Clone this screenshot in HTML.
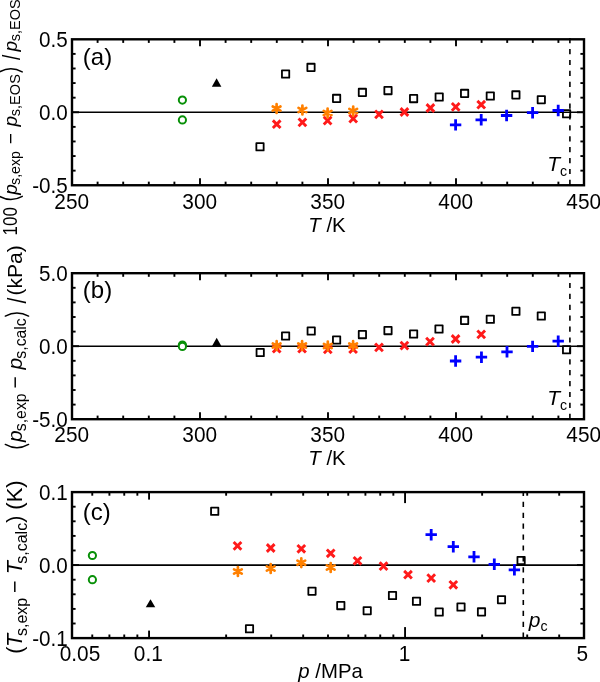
<!DOCTYPE html>
<html><head><meta charset="utf-8"><style>
html,body{margin:0;padding:0;background:#fff;width:600px;height:682px;overflow:hidden}
svg{will-change:transform}
text{font-family:"Liberation Sans", sans-serif;fill:#000}
</style></head><body>
<svg width="600" height="682" viewBox="0 0 600 682" style="display:block"><rect width="600" height="682" fill="#fff"/><line x1="97.60" y1="185.25" x2="97.60" y2="181.65" stroke="#000" stroke-width="1.9" /><line x1="97.60" y1="39.30" x2="97.60" y2="42.90" stroke="#000" stroke-width="1.9" /><line x1="123.20" y1="185.25" x2="123.20" y2="181.65" stroke="#000" stroke-width="1.9" /><line x1="123.20" y1="39.30" x2="123.20" y2="42.90" stroke="#000" stroke-width="1.9" /><line x1="148.80" y1="185.25" x2="148.80" y2="181.65" stroke="#000" stroke-width="1.9" /><line x1="148.80" y1="39.30" x2="148.80" y2="42.90" stroke="#000" stroke-width="1.9" /><line x1="174.40" y1="185.25" x2="174.40" y2="181.65" stroke="#000" stroke-width="1.9" /><line x1="174.40" y1="39.30" x2="174.40" y2="42.90" stroke="#000" stroke-width="1.9" /><line x1="200.00" y1="185.25" x2="200.00" y2="178.25" stroke="#000" stroke-width="1.9" /><line x1="200.00" y1="39.30" x2="200.00" y2="46.30" stroke="#000" stroke-width="1.9" /><line x1="225.60" y1="185.25" x2="225.60" y2="181.65" stroke="#000" stroke-width="1.9" /><line x1="225.60" y1="39.30" x2="225.60" y2="42.90" stroke="#000" stroke-width="1.9" /><line x1="251.20" y1="185.25" x2="251.20" y2="181.65" stroke="#000" stroke-width="1.9" /><line x1="251.20" y1="39.30" x2="251.20" y2="42.90" stroke="#000" stroke-width="1.9" /><line x1="276.80" y1="185.25" x2="276.80" y2="181.65" stroke="#000" stroke-width="1.9" /><line x1="276.80" y1="39.30" x2="276.80" y2="42.90" stroke="#000" stroke-width="1.9" /><line x1="302.40" y1="185.25" x2="302.40" y2="181.65" stroke="#000" stroke-width="1.9" /><line x1="302.40" y1="39.30" x2="302.40" y2="42.90" stroke="#000" stroke-width="1.9" /><line x1="328.00" y1="185.25" x2="328.00" y2="178.25" stroke="#000" stroke-width="1.9" /><line x1="328.00" y1="39.30" x2="328.00" y2="46.30" stroke="#000" stroke-width="1.9" /><line x1="353.60" y1="185.25" x2="353.60" y2="181.65" stroke="#000" stroke-width="1.9" /><line x1="353.60" y1="39.30" x2="353.60" y2="42.90" stroke="#000" stroke-width="1.9" /><line x1="379.20" y1="185.25" x2="379.20" y2="181.65" stroke="#000" stroke-width="1.9" /><line x1="379.20" y1="39.30" x2="379.20" y2="42.90" stroke="#000" stroke-width="1.9" /><line x1="404.80" y1="185.25" x2="404.80" y2="181.65" stroke="#000" stroke-width="1.9" /><line x1="404.80" y1="39.30" x2="404.80" y2="42.90" stroke="#000" stroke-width="1.9" /><line x1="430.40" y1="185.25" x2="430.40" y2="181.65" stroke="#000" stroke-width="1.9" /><line x1="430.40" y1="39.30" x2="430.40" y2="42.90" stroke="#000" stroke-width="1.9" /><line x1="456.00" y1="185.25" x2="456.00" y2="178.25" stroke="#000" stroke-width="1.9" /><line x1="456.00" y1="39.30" x2="456.00" y2="46.30" stroke="#000" stroke-width="1.9" /><line x1="481.60" y1="185.25" x2="481.60" y2="181.65" stroke="#000" stroke-width="1.9" /><line x1="481.60" y1="39.30" x2="481.60" y2="42.90" stroke="#000" stroke-width="1.9" /><line x1="507.20" y1="185.25" x2="507.20" y2="181.65" stroke="#000" stroke-width="1.9" /><line x1="507.20" y1="39.30" x2="507.20" y2="42.90" stroke="#000" stroke-width="1.9" /><line x1="532.80" y1="185.25" x2="532.80" y2="181.65" stroke="#000" stroke-width="1.9" /><line x1="532.80" y1="39.30" x2="532.80" y2="42.90" stroke="#000" stroke-width="1.9" /><line x1="558.40" y1="185.25" x2="558.40" y2="181.65" stroke="#000" stroke-width="1.9" /><line x1="558.40" y1="39.30" x2="558.40" y2="42.90" stroke="#000" stroke-width="1.9" /><line x1="72.00" y1="53.89" x2="75.60" y2="53.89" stroke="#000" stroke-width="1.9" /><line x1="584.00" y1="53.89" x2="580.40" y2="53.89" stroke="#000" stroke-width="1.9" /><line x1="72.00" y1="68.49" x2="75.60" y2="68.49" stroke="#000" stroke-width="1.9" /><line x1="584.00" y1="68.49" x2="580.40" y2="68.49" stroke="#000" stroke-width="1.9" /><line x1="72.00" y1="83.08" x2="75.60" y2="83.08" stroke="#000" stroke-width="1.9" /><line x1="584.00" y1="83.08" x2="580.40" y2="83.08" stroke="#000" stroke-width="1.9" /><line x1="72.00" y1="97.68" x2="75.60" y2="97.68" stroke="#000" stroke-width="1.9" /><line x1="584.00" y1="97.68" x2="580.40" y2="97.68" stroke="#000" stroke-width="1.9" /><line x1="72.00" y1="112.27" x2="79.00" y2="112.27" stroke="#000" stroke-width="1.9" /><line x1="584.00" y1="112.27" x2="577.00" y2="112.27" stroke="#000" stroke-width="1.9" /><line x1="72.00" y1="126.87" x2="75.60" y2="126.87" stroke="#000" stroke-width="1.9" /><line x1="584.00" y1="126.87" x2="580.40" y2="126.87" stroke="#000" stroke-width="1.9" /><line x1="72.00" y1="141.46" x2="75.60" y2="141.46" stroke="#000" stroke-width="1.9" /><line x1="584.00" y1="141.46" x2="580.40" y2="141.46" stroke="#000" stroke-width="1.9" /><line x1="72.00" y1="156.06" x2="75.60" y2="156.06" stroke="#000" stroke-width="1.9" /><line x1="584.00" y1="156.06" x2="580.40" y2="156.06" stroke="#000" stroke-width="1.9" /><line x1="72.00" y1="170.65" x2="75.60" y2="170.65" stroke="#000" stroke-width="1.9" /><line x1="584.00" y1="170.65" x2="580.40" y2="170.65" stroke="#000" stroke-width="1.9" /><line x1="97.60" y1="419.20" x2="97.60" y2="415.60" stroke="#000" stroke-width="1.9" /><line x1="97.60" y1="273.20" x2="97.60" y2="276.80" stroke="#000" stroke-width="1.9" /><line x1="123.20" y1="419.20" x2="123.20" y2="415.60" stroke="#000" stroke-width="1.9" /><line x1="123.20" y1="273.20" x2="123.20" y2="276.80" stroke="#000" stroke-width="1.9" /><line x1="148.80" y1="419.20" x2="148.80" y2="415.60" stroke="#000" stroke-width="1.9" /><line x1="148.80" y1="273.20" x2="148.80" y2="276.80" stroke="#000" stroke-width="1.9" /><line x1="174.40" y1="419.20" x2="174.40" y2="415.60" stroke="#000" stroke-width="1.9" /><line x1="174.40" y1="273.20" x2="174.40" y2="276.80" stroke="#000" stroke-width="1.9" /><line x1="200.00" y1="419.20" x2="200.00" y2="412.20" stroke="#000" stroke-width="1.9" /><line x1="200.00" y1="273.20" x2="200.00" y2="280.20" stroke="#000" stroke-width="1.9" /><line x1="225.60" y1="419.20" x2="225.60" y2="415.60" stroke="#000" stroke-width="1.9" /><line x1="225.60" y1="273.20" x2="225.60" y2="276.80" stroke="#000" stroke-width="1.9" /><line x1="251.20" y1="419.20" x2="251.20" y2="415.60" stroke="#000" stroke-width="1.9" /><line x1="251.20" y1="273.20" x2="251.20" y2="276.80" stroke="#000" stroke-width="1.9" /><line x1="276.80" y1="419.20" x2="276.80" y2="415.60" stroke="#000" stroke-width="1.9" /><line x1="276.80" y1="273.20" x2="276.80" y2="276.80" stroke="#000" stroke-width="1.9" /><line x1="302.40" y1="419.20" x2="302.40" y2="415.60" stroke="#000" stroke-width="1.9" /><line x1="302.40" y1="273.20" x2="302.40" y2="276.80" stroke="#000" stroke-width="1.9" /><line x1="328.00" y1="419.20" x2="328.00" y2="412.20" stroke="#000" stroke-width="1.9" /><line x1="328.00" y1="273.20" x2="328.00" y2="280.20" stroke="#000" stroke-width="1.9" /><line x1="353.60" y1="419.20" x2="353.60" y2="415.60" stroke="#000" stroke-width="1.9" /><line x1="353.60" y1="273.20" x2="353.60" y2="276.80" stroke="#000" stroke-width="1.9" /><line x1="379.20" y1="419.20" x2="379.20" y2="415.60" stroke="#000" stroke-width="1.9" /><line x1="379.20" y1="273.20" x2="379.20" y2="276.80" stroke="#000" stroke-width="1.9" /><line x1="404.80" y1="419.20" x2="404.80" y2="415.60" stroke="#000" stroke-width="1.9" /><line x1="404.80" y1="273.20" x2="404.80" y2="276.80" stroke="#000" stroke-width="1.9" /><line x1="430.40" y1="419.20" x2="430.40" y2="415.60" stroke="#000" stroke-width="1.9" /><line x1="430.40" y1="273.20" x2="430.40" y2="276.80" stroke="#000" stroke-width="1.9" /><line x1="456.00" y1="419.20" x2="456.00" y2="412.20" stroke="#000" stroke-width="1.9" /><line x1="456.00" y1="273.20" x2="456.00" y2="280.20" stroke="#000" stroke-width="1.9" /><line x1="481.60" y1="419.20" x2="481.60" y2="415.60" stroke="#000" stroke-width="1.9" /><line x1="481.60" y1="273.20" x2="481.60" y2="276.80" stroke="#000" stroke-width="1.9" /><line x1="507.20" y1="419.20" x2="507.20" y2="415.60" stroke="#000" stroke-width="1.9" /><line x1="507.20" y1="273.20" x2="507.20" y2="276.80" stroke="#000" stroke-width="1.9" /><line x1="532.80" y1="419.20" x2="532.80" y2="415.60" stroke="#000" stroke-width="1.9" /><line x1="532.80" y1="273.20" x2="532.80" y2="276.80" stroke="#000" stroke-width="1.9" /><line x1="558.40" y1="419.20" x2="558.40" y2="415.60" stroke="#000" stroke-width="1.9" /><line x1="558.40" y1="273.20" x2="558.40" y2="276.80" stroke="#000" stroke-width="1.9" /><line x1="72.00" y1="287.80" x2="75.60" y2="287.80" stroke="#000" stroke-width="1.9" /><line x1="584.00" y1="287.80" x2="580.40" y2="287.80" stroke="#000" stroke-width="1.9" /><line x1="72.00" y1="302.40" x2="75.60" y2="302.40" stroke="#000" stroke-width="1.9" /><line x1="584.00" y1="302.40" x2="580.40" y2="302.40" stroke="#000" stroke-width="1.9" /><line x1="72.00" y1="317.00" x2="75.60" y2="317.00" stroke="#000" stroke-width="1.9" /><line x1="584.00" y1="317.00" x2="580.40" y2="317.00" stroke="#000" stroke-width="1.9" /><line x1="72.00" y1="331.60" x2="75.60" y2="331.60" stroke="#000" stroke-width="1.9" /><line x1="584.00" y1="331.60" x2="580.40" y2="331.60" stroke="#000" stroke-width="1.9" /><line x1="72.00" y1="346.20" x2="79.00" y2="346.20" stroke="#000" stroke-width="1.9" /><line x1="584.00" y1="346.20" x2="577.00" y2="346.20" stroke="#000" stroke-width="1.9" /><line x1="72.00" y1="360.80" x2="75.60" y2="360.80" stroke="#000" stroke-width="1.9" /><line x1="584.00" y1="360.80" x2="580.40" y2="360.80" stroke="#000" stroke-width="1.9" /><line x1="72.00" y1="375.40" x2="75.60" y2="375.40" stroke="#000" stroke-width="1.9" /><line x1="584.00" y1="375.40" x2="580.40" y2="375.40" stroke="#000" stroke-width="1.9" /><line x1="72.00" y1="390.00" x2="75.60" y2="390.00" stroke="#000" stroke-width="1.9" /><line x1="584.00" y1="390.00" x2="580.40" y2="390.00" stroke="#000" stroke-width="1.9" /><line x1="72.00" y1="404.60" x2="75.60" y2="404.60" stroke="#000" stroke-width="1.9" /><line x1="584.00" y1="404.60" x2="580.40" y2="404.60" stroke="#000" stroke-width="1.9" /><line x1="92.27" y1="638.10" x2="92.27" y2="634.50" stroke="#000" stroke-width="1.9" /><line x1="92.27" y1="492.10" x2="92.27" y2="495.70" stroke="#000" stroke-width="1.9" /><line x1="109.41" y1="638.10" x2="109.41" y2="634.50" stroke="#000" stroke-width="1.9" /><line x1="109.41" y1="492.10" x2="109.41" y2="495.70" stroke="#000" stroke-width="1.9" /><line x1="124.25" y1="638.10" x2="124.25" y2="634.50" stroke="#000" stroke-width="1.9" /><line x1="124.25" y1="492.10" x2="124.25" y2="495.70" stroke="#000" stroke-width="1.9" /><line x1="137.35" y1="638.10" x2="137.35" y2="634.50" stroke="#000" stroke-width="1.9" /><line x1="137.35" y1="492.10" x2="137.35" y2="495.70" stroke="#000" stroke-width="1.9" /><line x1="149.06" y1="638.10" x2="149.06" y2="630.60" stroke="#000" stroke-width="1.9" /><line x1="149.06" y1="492.10" x2="149.06" y2="499.60" stroke="#000" stroke-width="1.9" /><line x1="226.13" y1="638.10" x2="226.13" y2="634.50" stroke="#000" stroke-width="1.9" /><line x1="226.13" y1="492.10" x2="226.13" y2="495.70" stroke="#000" stroke-width="1.9" /><line x1="271.21" y1="638.10" x2="271.21" y2="634.50" stroke="#000" stroke-width="1.9" /><line x1="271.21" y1="492.10" x2="271.21" y2="495.70" stroke="#000" stroke-width="1.9" /><line x1="303.19" y1="638.10" x2="303.19" y2="634.50" stroke="#000" stroke-width="1.9" /><line x1="303.19" y1="492.10" x2="303.19" y2="495.70" stroke="#000" stroke-width="1.9" /><line x1="328.00" y1="638.10" x2="328.00" y2="634.50" stroke="#000" stroke-width="1.9" /><line x1="328.00" y1="492.10" x2="328.00" y2="495.70" stroke="#000" stroke-width="1.9" /><line x1="348.27" y1="638.10" x2="348.27" y2="634.50" stroke="#000" stroke-width="1.9" /><line x1="348.27" y1="492.10" x2="348.27" y2="495.70" stroke="#000" stroke-width="1.9" /><line x1="365.41" y1="638.10" x2="365.41" y2="634.50" stroke="#000" stroke-width="1.9" /><line x1="365.41" y1="492.10" x2="365.41" y2="495.70" stroke="#000" stroke-width="1.9" /><line x1="380.25" y1="638.10" x2="380.25" y2="634.50" stroke="#000" stroke-width="1.9" /><line x1="380.25" y1="492.10" x2="380.25" y2="495.70" stroke="#000" stroke-width="1.9" /><line x1="393.35" y1="638.10" x2="393.35" y2="634.50" stroke="#000" stroke-width="1.9" /><line x1="393.35" y1="492.10" x2="393.35" y2="495.70" stroke="#000" stroke-width="1.9" /><line x1="405.06" y1="638.10" x2="405.06" y2="627.10" stroke="#000" stroke-width="1.9" /><line x1="405.06" y1="492.10" x2="405.06" y2="503.10" stroke="#000" stroke-width="1.9" /><line x1="482.13" y1="638.10" x2="482.13" y2="634.50" stroke="#000" stroke-width="1.9" /><line x1="482.13" y1="492.10" x2="482.13" y2="495.70" stroke="#000" stroke-width="1.9" /><line x1="527.21" y1="638.10" x2="527.21" y2="634.50" stroke="#000" stroke-width="1.9" /><line x1="527.21" y1="492.10" x2="527.21" y2="495.70" stroke="#000" stroke-width="1.9" /><line x1="559.19" y1="638.10" x2="559.19" y2="634.50" stroke="#000" stroke-width="1.9" /><line x1="559.19" y1="492.10" x2="559.19" y2="495.70" stroke="#000" stroke-width="1.9" /><line x1="72.00" y1="506.70" x2="75.60" y2="506.70" stroke="#000" stroke-width="1.9" /><line x1="584.00" y1="506.70" x2="580.40" y2="506.70" stroke="#000" stroke-width="1.9" /><line x1="72.00" y1="521.30" x2="75.60" y2="521.30" stroke="#000" stroke-width="1.9" /><line x1="584.00" y1="521.30" x2="580.40" y2="521.30" stroke="#000" stroke-width="1.9" /><line x1="72.00" y1="535.90" x2="75.60" y2="535.90" stroke="#000" stroke-width="1.9" /><line x1="584.00" y1="535.90" x2="580.40" y2="535.90" stroke="#000" stroke-width="1.9" /><line x1="72.00" y1="550.50" x2="75.60" y2="550.50" stroke="#000" stroke-width="1.9" /><line x1="584.00" y1="550.50" x2="580.40" y2="550.50" stroke="#000" stroke-width="1.9" /><line x1="72.00" y1="565.10" x2="79.00" y2="565.10" stroke="#000" stroke-width="1.9" /><line x1="584.00" y1="565.10" x2="577.00" y2="565.10" stroke="#000" stroke-width="1.9" /><line x1="72.00" y1="579.70" x2="75.60" y2="579.70" stroke="#000" stroke-width="1.9" /><line x1="584.00" y1="579.70" x2="580.40" y2="579.70" stroke="#000" stroke-width="1.9" /><line x1="72.00" y1="594.30" x2="75.60" y2="594.30" stroke="#000" stroke-width="1.9" /><line x1="584.00" y1="594.30" x2="580.40" y2="594.30" stroke="#000" stroke-width="1.9" /><line x1="72.00" y1="608.90" x2="75.60" y2="608.90" stroke="#000" stroke-width="1.9" /><line x1="584.00" y1="608.90" x2="580.40" y2="608.90" stroke="#000" stroke-width="1.9" /><line x1="72.00" y1="623.50" x2="75.60" y2="623.50" stroke="#000" stroke-width="1.9" /><line x1="584.00" y1="623.50" x2="580.40" y2="623.50" stroke="#000" stroke-width="1.9" /><line x1="72.00" y1="112.28" x2="584.00" y2="112.28" stroke="#000" stroke-width="1.65" /><line x1="72.00" y1="346.20" x2="584.00" y2="346.20" stroke="#000" stroke-width="1.65" /><line x1="72.00" y1="565.10" x2="584.00" y2="565.10" stroke="#000" stroke-width="1.65" /><line x1="569.9" y1="38.099999999999994" x2="569.9" y2="185.25" stroke="#000" stroke-width="1.6" stroke-dasharray="5.2 5.7"/><line x1="569.9" y1="272.0" x2="569.9" y2="419.2" stroke="#000" stroke-width="1.6" stroke-dasharray="5.2 5.7"/><line x1="523.3" y1="490.90000000000003" x2="523.3" y2="638.1" stroke="#000" stroke-width="1.6" stroke-dasharray="5.2 5.7"/><circle cx="182.40" cy="100.10" r="3.6" fill="#fff" stroke="#089008" stroke-width="2.0"/><circle cx="182.40" cy="119.90" r="3.6" fill="#fff" stroke="#089008" stroke-width="2.0"/><path d="M216.60,78.20 L221.35,86.70 L211.85,86.70 Z" fill="#000"/><rect x="256.35" y="143.15" width="7.30" height="7.30" fill="none" stroke="#000" stroke-width="1.8" stroke-linejoin="round"/><rect x="281.95" y="70.35" width="7.30" height="7.30" fill="none" stroke="#000" stroke-width="1.8" stroke-linejoin="round"/><rect x="307.35" y="63.75" width="7.30" height="7.30" fill="none" stroke="#000" stroke-width="1.8" stroke-linejoin="round"/><rect x="332.95" y="94.75" width="7.30" height="7.30" fill="none" stroke="#000" stroke-width="1.8" stroke-linejoin="round"/><rect x="358.75" y="88.75" width="7.30" height="7.30" fill="none" stroke="#000" stroke-width="1.8" stroke-linejoin="round"/><rect x="384.35" y="86.95" width="7.30" height="7.30" fill="none" stroke="#000" stroke-width="1.8" stroke-linejoin="round"/><rect x="409.95" y="94.95" width="7.30" height="7.30" fill="none" stroke="#000" stroke-width="1.8" stroke-linejoin="round"/><rect x="435.55" y="93.35" width="7.30" height="7.30" fill="none" stroke="#000" stroke-width="1.8" stroke-linejoin="round"/><rect x="460.95" y="89.75" width="7.30" height="7.30" fill="none" stroke="#000" stroke-width="1.8" stroke-linejoin="round"/><rect x="486.65" y="92.35" width="7.30" height="7.30" fill="none" stroke="#000" stroke-width="1.8" stroke-linejoin="round"/><rect x="512.25" y="91.25" width="7.30" height="7.30" fill="none" stroke="#000" stroke-width="1.8" stroke-linejoin="round"/><rect x="537.65" y="96.05" width="7.30" height="7.30" fill="none" stroke="#000" stroke-width="1.8" stroke-linejoin="round"/><rect x="562.95" y="110.15" width="7.30" height="7.30" fill="none" stroke="#000" stroke-width="1.8" stroke-linejoin="round"/><path d="M272.85,120.35 L280.55,128.05 M272.85,128.05 L280.55,120.35" stroke="#ff1a1a" stroke-width="2.9" stroke-linecap="butt" fill="none"/><path d="M298.55,118.55 L306.25,126.25 M298.55,126.25 L306.25,118.55" stroke="#ff1a1a" stroke-width="2.9" stroke-linecap="butt" fill="none"/><path d="M323.75,116.75 L331.45,124.45 M323.75,124.45 L331.45,116.75" stroke="#ff1a1a" stroke-width="2.9" stroke-linecap="butt" fill="none"/><path d="M349.35,114.75 L357.05,122.45 M349.35,122.45 L357.05,114.75" stroke="#ff1a1a" stroke-width="2.9" stroke-linecap="butt" fill="none"/><path d="M375.15,110.55 L382.85,118.25 M375.15,118.25 L382.85,110.55" stroke="#ff1a1a" stroke-width="2.9" stroke-linecap="butt" fill="none"/><path d="M400.55,108.15 L408.25,115.85 M400.55,115.85 L408.25,108.15" stroke="#ff1a1a" stroke-width="2.9" stroke-linecap="butt" fill="none"/><path d="M426.55,104.15 L434.25,111.85 M426.55,111.85 L434.25,104.15" stroke="#ff1a1a" stroke-width="2.9" stroke-linecap="butt" fill="none"/><path d="M451.85,103.05 L459.55,110.75 M451.85,110.75 L459.55,103.05" stroke="#ff1a1a" stroke-width="2.9" stroke-linecap="butt" fill="none"/><path d="M477.35,100.85 L485.05,108.55 M477.35,108.55 L485.05,100.85" stroke="#ff1a1a" stroke-width="2.9" stroke-linecap="butt" fill="none"/><path d="M276.60,104.20 L276.60,113.00 M272.72,106.53 L280.48,110.67 M280.48,106.53 L272.72,110.67 " stroke="#ff8000" stroke-width="2.7" stroke-linecap="round" fill="none"/><path d="M302.40,105.60 L302.40,114.40 M298.52,107.93 L306.28,112.07 M306.28,107.93 L298.52,112.07 " stroke="#ff8000" stroke-width="2.7" stroke-linecap="round" fill="none"/><path d="M327.60,108.60 L327.60,117.40 M323.72,110.93 L331.48,115.07 M331.48,110.93 L323.72,115.07 " stroke="#ff8000" stroke-width="2.7" stroke-linecap="round" fill="none"/><path d="M353.20,106.60 L353.20,115.40 M349.32,108.93 L357.08,113.07 M357.08,108.93 L349.32,113.07 " stroke="#ff8000" stroke-width="2.7" stroke-linecap="round" fill="none"/><path d="M451.30,124.90 L459.90,124.90 M455.60,120.60 L455.60,129.20" stroke="#0000ff" stroke-width="2.8" stroke-linecap="square" fill="none"/><path d="M476.90,119.80 L485.50,119.80 M481.20,115.50 L481.20,124.10" stroke="#0000ff" stroke-width="2.8" stroke-linecap="square" fill="none"/><path d="M502.30,115.50 L510.90,115.50 M506.60,111.20 L506.60,119.80" stroke="#0000ff" stroke-width="2.8" stroke-linecap="square" fill="none"/><path d="M528.30,112.70 L536.90,112.70 M532.60,108.40 L532.60,117.00" stroke="#0000ff" stroke-width="2.8" stroke-linecap="square" fill="none"/><path d="M553.90,110.50 L562.50,110.50 M558.20,106.20 L558.20,114.80" stroke="#0000ff" stroke-width="2.8" stroke-linecap="square" fill="none"/><circle cx="182.40" cy="345.00" r="3.6" fill="#fff" stroke="#089008" stroke-width="2.0"/><circle cx="182.40" cy="346.40" r="3.6" fill="#fff" stroke="#089008" stroke-width="2.0"/><path d="M216.70,337.80 L221.45,346.30 L211.95,346.30 Z" fill="#000"/><rect x="256.55" y="348.85" width="7.30" height="7.30" fill="none" stroke="#000" stroke-width="1.8" stroke-linejoin="round"/><rect x="281.95" y="332.35" width="7.30" height="7.30" fill="none" stroke="#000" stroke-width="1.8" stroke-linejoin="round"/><rect x="307.55" y="327.35" width="7.30" height="7.30" fill="none" stroke="#000" stroke-width="1.8" stroke-linejoin="round"/><rect x="332.95" y="336.35" width="7.30" height="7.30" fill="none" stroke="#000" stroke-width="1.8" stroke-linejoin="round"/><rect x="358.75" y="330.95" width="7.30" height="7.30" fill="none" stroke="#000" stroke-width="1.8" stroke-linejoin="round"/><rect x="384.35" y="326.95" width="7.30" height="7.30" fill="none" stroke="#000" stroke-width="1.8" stroke-linejoin="round"/><rect x="409.95" y="330.35" width="7.30" height="7.30" fill="none" stroke="#000" stroke-width="1.8" stroke-linejoin="round"/><rect x="435.35" y="325.35" width="7.30" height="7.30" fill="none" stroke="#000" stroke-width="1.8" stroke-linejoin="round"/><rect x="460.95" y="316.75" width="7.30" height="7.30" fill="none" stroke="#000" stroke-width="1.8" stroke-linejoin="round"/><rect x="486.65" y="315.65" width="7.30" height="7.30" fill="none" stroke="#000" stroke-width="1.8" stroke-linejoin="round"/><rect x="512.25" y="307.65" width="7.30" height="7.30" fill="none" stroke="#000" stroke-width="1.8" stroke-linejoin="round"/><rect x="537.65" y="312.35" width="7.30" height="7.30" fill="none" stroke="#000" stroke-width="1.8" stroke-linejoin="round"/><rect x="562.95" y="346.15" width="7.30" height="7.30" fill="none" stroke="#000" stroke-width="1.8" stroke-linejoin="round"/><path d="M272.85,344.85 L280.55,352.55 M272.85,352.55 L280.55,344.85" stroke="#ff1a1a" stroke-width="2.9" stroke-linecap="butt" fill="none"/><path d="M298.25,344.85 L305.95,352.55 M298.25,352.55 L305.95,344.85" stroke="#ff1a1a" stroke-width="2.9" stroke-linecap="butt" fill="none"/><path d="M323.95,345.55 L331.65,353.25 M323.95,353.25 L331.65,345.55" stroke="#ff1a1a" stroke-width="2.9" stroke-linecap="butt" fill="none"/><path d="M349.25,345.35 L356.95,353.05 M349.25,353.05 L356.95,345.35" stroke="#ff1a1a" stroke-width="2.9" stroke-linecap="butt" fill="none"/><path d="M375.15,343.55 L382.85,351.25 M375.15,351.25 L382.85,343.55" stroke="#ff1a1a" stroke-width="2.9" stroke-linecap="butt" fill="none"/><path d="M400.55,341.75 L408.25,349.45 M400.55,349.45 L408.25,341.75" stroke="#ff1a1a" stroke-width="2.9" stroke-linecap="butt" fill="none"/><path d="M426.15,337.75 L433.85,345.45 M426.15,345.45 L433.85,337.75" stroke="#ff1a1a" stroke-width="2.9" stroke-linecap="butt" fill="none"/><path d="M451.75,335.15 L459.45,342.85 M451.75,342.85 L459.45,335.15" stroke="#ff1a1a" stroke-width="2.9" stroke-linecap="butt" fill="none"/><path d="M477.35,330.55 L485.05,338.25 M477.35,338.25 L485.05,330.55" stroke="#ff1a1a" stroke-width="2.9" stroke-linecap="butt" fill="none"/><path d="M276.65,341.20 L276.65,350.00 M272.77,343.53 L280.53,347.67 M280.53,343.53 L272.77,347.67 " stroke="#ff8000" stroke-width="2.7" stroke-linecap="round" fill="none"/><path d="M302.10,341.20 L302.10,350.00 M298.22,343.53 L305.98,347.67 M305.98,343.53 L298.22,347.67 " stroke="#ff8000" stroke-width="2.7" stroke-linecap="round" fill="none"/><path d="M327.80,341.60 L327.80,350.40 M323.92,343.93 L331.68,348.07 M331.68,343.93 L323.92,348.07 " stroke="#ff8000" stroke-width="2.7" stroke-linecap="round" fill="none"/><path d="M353.10,341.20 L353.10,350.00 M349.22,343.53 L356.98,347.67 M356.98,343.53 L349.22,347.67 " stroke="#ff8000" stroke-width="2.7" stroke-linecap="round" fill="none"/><path d="M451.30,361.00 L459.90,361.00 M455.60,356.70 L455.60,365.30" stroke="#0000ff" stroke-width="2.8" stroke-linecap="square" fill="none"/><path d="M477.15,357.20 L485.75,357.20 M481.45,352.90 L481.45,361.50" stroke="#0000ff" stroke-width="2.8" stroke-linecap="square" fill="none"/><path d="M502.70,351.80 L511.30,351.80 M507.00,347.50 L507.00,356.10" stroke="#0000ff" stroke-width="2.8" stroke-linecap="square" fill="none"/><path d="M528.30,346.40 L536.90,346.40 M532.60,342.10 L532.60,350.70" stroke="#0000ff" stroke-width="2.8" stroke-linecap="square" fill="none"/><path d="M553.90,341.20 L562.50,341.20 M558.20,336.90 L558.20,345.50" stroke="#0000ff" stroke-width="2.8" stroke-linecap="square" fill="none"/><circle cx="92.40" cy="555.50" r="3.6" fill="#fff" stroke="#089008" stroke-width="2.0"/><circle cx="92.40" cy="579.70" r="3.6" fill="#fff" stroke="#089008" stroke-width="2.0"/><path d="M150.50,599.20 L155.25,607.20 L145.75,607.20 Z" fill="#000"/><rect x="211.05" y="507.65" width="7.30" height="7.30" fill="none" stroke="#000" stroke-width="1.8" stroke-linejoin="round"/><rect x="245.85" y="625.15" width="7.30" height="7.30" fill="none" stroke="#000" stroke-width="1.8" stroke-linejoin="round"/><rect x="308.35" y="587.55" width="7.30" height="7.30" fill="none" stroke="#000" stroke-width="1.8" stroke-linejoin="round"/><rect x="337.15" y="601.95" width="7.30" height="7.30" fill="none" stroke="#000" stroke-width="1.8" stroke-linejoin="round"/><rect x="363.55" y="607.05" width="7.30" height="7.30" fill="none" stroke="#000" stroke-width="1.8" stroke-linejoin="round"/><rect x="388.85" y="591.85" width="7.30" height="7.30" fill="none" stroke="#000" stroke-width="1.8" stroke-linejoin="round"/><rect x="412.85" y="597.65" width="7.30" height="7.30" fill="none" stroke="#000" stroke-width="1.8" stroke-linejoin="round"/><rect x="435.55" y="608.35" width="7.30" height="7.30" fill="none" stroke="#000" stroke-width="1.8" stroke-linejoin="round"/><rect x="457.35" y="603.35" width="7.30" height="7.30" fill="none" stroke="#000" stroke-width="1.8" stroke-linejoin="round"/><rect x="477.85" y="608.25" width="7.30" height="7.30" fill="none" stroke="#000" stroke-width="1.8" stroke-linejoin="round"/><rect x="497.85" y="596.05" width="7.30" height="7.30" fill="none" stroke="#000" stroke-width="1.8" stroke-linejoin="round"/><rect x="517.45" y="556.85" width="7.30" height="7.30" fill="none" stroke="#000" stroke-width="1.8" stroke-linejoin="round"/><path d="M233.65,542.05 L241.35,549.75 M233.65,549.75 L241.35,542.05" stroke="#ff1a1a" stroke-width="2.9" stroke-linecap="butt" fill="none"/><path d="M266.85,544.15 L274.55,551.85 M266.85,551.85 L274.55,544.15" stroke="#ff1a1a" stroke-width="2.9" stroke-linecap="butt" fill="none"/><path d="M297.45,544.95 L305.15,552.65 M297.45,552.65 L305.15,544.95" stroke="#ff1a1a" stroke-width="2.9" stroke-linecap="butt" fill="none"/><path d="M326.85,549.45 L334.55,557.15 M326.85,557.15 L334.55,549.45" stroke="#ff1a1a" stroke-width="2.9" stroke-linecap="butt" fill="none"/><path d="M353.65,556.95 L361.35,564.65 M353.65,564.65 L361.35,556.95" stroke="#ff1a1a" stroke-width="2.9" stroke-linecap="butt" fill="none"/><path d="M379.65,562.25 L387.35,569.95 M379.65,569.95 L387.35,562.25" stroke="#ff1a1a" stroke-width="2.9" stroke-linecap="butt" fill="none"/><path d="M404.15,570.85 L411.85,578.55 M404.15,578.55 L411.85,570.85" stroke="#ff1a1a" stroke-width="2.9" stroke-linecap="butt" fill="none"/><path d="M427.35,574.25 L435.05,581.95 M427.35,581.95 L435.05,574.25" stroke="#ff1a1a" stroke-width="2.9" stroke-linecap="butt" fill="none"/><path d="M449.45,580.95 L457.15,588.65 M449.45,588.65 L457.15,580.95" stroke="#ff1a1a" stroke-width="2.9" stroke-linecap="butt" fill="none"/><path d="M237.90,567.10 L237.90,575.90 M234.02,569.43 L241.78,573.57 M241.78,569.43 L234.02,573.57 " stroke="#ff8000" stroke-width="2.7" stroke-linecap="round" fill="none"/><path d="M270.70,564.10 L270.70,572.90 M266.82,566.43 L274.58,570.57 M274.58,566.43 L266.82,570.57 " stroke="#ff8000" stroke-width="2.7" stroke-linecap="round" fill="none"/><path d="M301.30,558.30 L301.30,567.10 M297.42,560.63 L305.18,564.77 M305.18,560.63 L297.42,564.77 " stroke="#ff8000" stroke-width="2.7" stroke-linecap="round" fill="none"/><path d="M330.70,563.10 L330.70,571.90 M326.82,565.43 L334.58,569.57 M334.58,565.43 L326.82,569.57 " stroke="#ff8000" stroke-width="2.7" stroke-linecap="round" fill="none"/><path d="M426.90,534.70 L435.50,534.70 M431.20,530.40 L431.20,539.00" stroke="#0000ff" stroke-width="2.8" stroke-linecap="square" fill="none"/><path d="M449.00,546.70 L457.60,546.70 M453.30,542.40 L453.30,551.00" stroke="#0000ff" stroke-width="2.8" stroke-linecap="square" fill="none"/><path d="M469.70,556.80 L478.30,556.80 M474.00,552.50 L474.00,561.10" stroke="#0000ff" stroke-width="2.8" stroke-linecap="square" fill="none"/><path d="M490.00,564.30 L498.60,564.30 M494.30,560.00 L494.30,568.60" stroke="#0000ff" stroke-width="2.8" stroke-linecap="square" fill="none"/><path d="M510.10,569.80 L518.70,569.80 M514.40,565.50 L514.40,574.10" stroke="#0000ff" stroke-width="2.8" stroke-linecap="square" fill="none"/><rect x="72" y="39.3" width="512" height="145.95" fill="none" stroke="#000" stroke-width="2.4"/><rect x="72" y="273.2" width="512" height="146.0" fill="none" stroke="#000" stroke-width="2.4"/><rect x="72" y="492.1" width="512" height="146.0" fill="none" stroke="#000" stroke-width="2.4"/><text transform="translate(67.80,46.50) scale(0.96,1)" font-size="21.5" text-anchor="end"  style="">0.5</text><text transform="translate(67.80,119.50) scale(0.96,1)" font-size="21.5" text-anchor="end"  style="">0.0</text><text transform="translate(67.80,192.50) scale(0.96,1)" font-size="21.5" text-anchor="end"  style="">-0.5</text><text transform="translate(67.80,280.50) scale(0.96,1)" font-size="21.5" text-anchor="end"  style="">5.0</text><text transform="translate(67.80,353.50) scale(0.96,1)" font-size="21.5" text-anchor="end"  style="">0.0</text><text transform="translate(67.80,426.50) scale(0.96,1)" font-size="21.5" text-anchor="end"  style="">-5.0</text><text transform="translate(67.80,499.50) scale(0.96,1)" font-size="21.5" text-anchor="end"  style="">0.1</text><text transform="translate(67.80,572.50) scale(0.96,1)" font-size="21.5" text-anchor="end"  style="">0.0</text><text transform="translate(67.80,645.50) scale(0.96,1)" font-size="21.5" text-anchor="end"  style="">-0.1</text><text transform="translate(71.70,208.60) scale(0.97,1)" font-size="21.5" text-anchor="middle"  style="">250</text><text transform="translate(199.70,208.60) scale(0.97,1)" font-size="21.5" text-anchor="middle"  style="">300</text><text transform="translate(327.70,208.60) scale(0.97,1)" font-size="21.5" text-anchor="middle"  style="">350</text><text transform="translate(455.70,208.60) scale(0.97,1)" font-size="21.5" text-anchor="middle"  style="">400</text><text transform="translate(583.70,208.60) scale(0.97,1)" font-size="21.5" text-anchor="middle"  style="">450</text><text transform="translate(71.70,442.00) scale(0.97,1)" font-size="21.5" text-anchor="middle"  style="">250</text><text transform="translate(199.70,442.00) scale(0.97,1)" font-size="21.5" text-anchor="middle"  style="">300</text><text transform="translate(327.70,442.00) scale(0.97,1)" font-size="21.5" text-anchor="middle"  style="">350</text><text transform="translate(455.70,442.00) scale(0.97,1)" font-size="21.5" text-anchor="middle"  style="">400</text><text transform="translate(583.70,442.00) scale(0.97,1)" font-size="21.5" text-anchor="middle"  style="">450</text><text transform="translate(80.00,661.00) scale(0.97,1)" font-size="21.5" text-anchor="middle"  style="">0.05</text><text transform="translate(148.30,661.00) scale(0.97,1)" font-size="21.5" text-anchor="middle"  style="">0.1</text><text transform="translate(404.60,661.00) scale(0.97,1)" font-size="21.5" text-anchor="middle"  style="">1</text><text transform="translate(582.30,661.00) scale(0.97,1)" font-size="21.5" text-anchor="middle"  style="">5</text><text transform="translate(327.00,231.50) scale(0.975,1)" font-size="21" text-anchor="middle"  style=""><tspan font-style="italic">T</tspan> /K</text><text transform="translate(327.00,465.10) scale(0.975,1)" font-size="21" text-anchor="middle"  style=""><tspan font-style="italic">T</tspan> /K</text><text transform="translate(330.60,677.50) scale(0.97,1)" font-size="21" text-anchor="middle"  style=""><tspan font-style="italic">p</tspan> /MPa</text><text x="82.80" y="64.60" font-size="24" text-anchor="start"  style="">(a)</text><text x="82.80" y="298.40" font-size="24" text-anchor="start"  style="">(b)</text><text x="82.80" y="519.60" font-size="24" text-anchor="start"  style="">(c)</text><text x="547.20" y="170.80" font-size="21" text-anchor="start"  style=""><tspan font-style="italic">T</tspan><tspan font-size="14.2" dy="5.3">c</tspan></text><text x="547.20" y="404.60" font-size="21" text-anchor="start"  style=""><tspan font-style="italic">T</tspan><tspan font-size="14.2" dy="5.3">c</tspan></text><text x="528.80" y="626.50" font-size="21" text-anchor="start"  style=""><tspan font-style="italic">p</tspan><tspan font-size="14.2" dy="4.7">c</tspan></text><text transform="translate(16.90,235.47) rotate(-90) scale(0.870,1.000)" font-size="19.5" font-style="normal">100</text><path d="M-0.60,196.30 Q10.85,202.70 22.30,196.30" fill="none" stroke="#000" stroke-width="1.45" stroke-linecap="round"/><text transform="translate(17.00,194.74) rotate(-90)" font-size="19" font-style="italic">p</text><text transform="translate(20.30,184.98) rotate(-90) scale(0.950,1.000)" font-size="15" font-style="normal">s,exp</text><text transform="translate(17.00,144.25) rotate(-90)" font-size="19" font-style="normal">−</text><text transform="translate(17.00,126.39) rotate(-90)" font-size="19" font-style="italic">p</text><text transform="translate(20.30,116.19) rotate(-90) scale(0.970,1.000)" font-size="15" font-style="normal">s,EOS</text><path d="M-0.60,71.90 Q10.80,65.50 22.20,71.90" fill="none" stroke="#000" stroke-width="1.45" stroke-linecap="round"/><text transform="translate(20.30,60.09) rotate(-90) scale(1.000,1.300)" font-size="19" font-style="normal">/</text><text transform="translate(17.00,51.54) rotate(-90)" font-size="19" font-style="italic">p</text><text transform="translate(20.30,41.24) rotate(-90) scale(0.970,1.000)" font-size="15" font-style="normal">s,EOS</text><path d="M5.30,444.40 Q16.95,451.00 28.60,444.40" fill="none" stroke="#000" stroke-width="1.45" stroke-linecap="round"/><text transform="translate(22.40,441.99) rotate(-90)" font-size="21" font-style="italic">p</text><text transform="translate(26.10,431.17) rotate(-90)" font-size="15.8" font-style="normal">s,exp</text><text transform="translate(22.40,388.39) rotate(-90)" font-size="21" font-style="normal">−</text><text transform="translate(22.40,369.44) rotate(-90)" font-size="21" font-style="italic">p</text><text transform="translate(26.10,358.66) rotate(-90)" font-size="15.8" font-style="normal">s,calc</text><path d="M5.30,316.10 Q16.95,309.70 28.60,316.10" fill="none" stroke="#000" stroke-width="1.45" stroke-linecap="round"/><text transform="translate(26.10,303.52) rotate(-90) scale(1.000,1.220)" font-size="21" font-style="normal">/</text><text transform="translate(21.90,295.49) rotate(-90)" font-size="21" font-style="normal">(kPa)</text><text transform="translate(22.10,653.78) rotate(-90)" font-size="21.5" font-style="normal">(</text><text transform="translate(22.20,646.97) rotate(-90)" font-size="21.5" font-style="italic">T</text><text transform="translate(26.60,636.01) rotate(-90)" font-size="16" font-style="normal">s,exp</text><text transform="translate(22.20,592.98) rotate(-90)" font-size="21.5" font-style="normal">−</text><text transform="translate(22.20,574.37) rotate(-90)" font-size="21.5" font-style="italic">T</text><text transform="translate(26.60,563.76) rotate(-90)" font-size="16" font-style="normal">s,calc</text><text transform="translate(22.10,522.83) rotate(-90)" font-size="21.5" font-style="normal">)</text><text transform="translate(22.00,509.66) rotate(-90)" font-size="22" font-style="normal">(K)</text></svg>
</body></html>
